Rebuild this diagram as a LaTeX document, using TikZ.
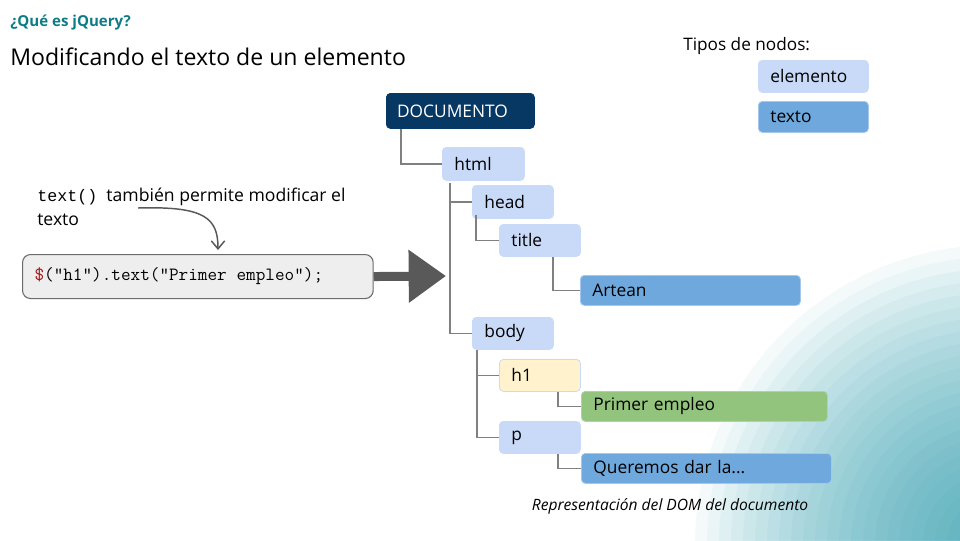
\documentclass[tikz,border=0pt]{standalone}
\usepackage{fontspec}
\setmainfont{Open Sans}
\newfontfamily\notemono{Liberation Mono}
\usetikzlibrary{arrows.meta}
\definecolor{elemc}{HTML}{C9DAF8}
\definecolor{textc}{HTML}{6FA8DC}
\definecolor{darkc}{HTML}{073763}
\definecolor{h1c}{HTML}{FFF2CC}
\definecolor{greenc}{HTML}{93C47D}
\definecolor{connc}{HTML}{808080}
\definecolor{tealc}{HTML}{0E7C86}
\definecolor{codebg}{HTML}{EEEEEE}
\definecolor{codebd}{HTML}{6B6B6B}
\definecolor{arrowc}{HTML}{595959}
\definecolor{dollarc}{HTML}{A31515}
\definecolor{glowA}{HTML}{2A9DB0}
\begin{document}
\begin{tikzpicture}[x=0.75pt, y=-0.75pt,
  box/.style={anchor=north west, rounded corners=3pt, inner xsep=9pt, inner ysep=0pt,
    align=left, font=\fontsize{13pt}{15pt}\selectfont, draw=elemc, line width=0.6pt},
  elem/.style={box, fill=elemc},
  txt/.style={box, fill=textc, draw=elemc!60!textc},
  conn/.style={draw=connc, line width=1.1pt},
  bigarrow/.style={draw=arrowc, line width=6.75pt, -{Triangle[length=28pt, width=38pt]}},
  curvy/.style={draw=arrowc, line width=1.1pt, -{Straight Barb[length=6pt, width=10pt]}},
  glow/.style={fill=glowA, fill opacity=0.05}
]
\useasboundingbox (0,0) rectangle (960,540);
\fill[white] (0,0) rectangle (960,540);
\begin{scope}
\clip (0,0) rectangle (960,540);
\foreach \r in {300,288,...,10} {\fill[glow] (995,545) circle (\r);}
\end{scope}

% titles
\node[anchor=base west, inner sep=0pt, text=tealc, font=\bfseries\fontsize{11.3pt}{13pt}\selectfont] (kicker) at (10,26) {¿Qué es jQuery?};
\node[anchor=base west, inner sep=0pt, font=\fontsize{17.3pt}{20pt}\selectfont] (title) at (10,65) {Modificando el texto de un elemento};

% legend
\node[anchor=base west, inner sep=0pt, font=\fontsize{12.9pt}{15pt}\selectfont] (legend) at (683,50) {Tipos de nodos:};
\node[elem, minimum width=82.5pt, text width=64.5pt, minimum height=24pt] (lelem) at (758,60) {elemento};
\node[txt, minimum width=82.5pt, text width=64.5pt, minimum height=23.25pt] (ltext) at (758,101) {texto};

% tree
\node[box, fill=darkc, draw=darkc, text=white, inner xsep=8pt, minimum width=111pt, text width=95pt, minimum height=26.25pt] (doc) at (386,93) {DOCUMENTO};
\node[elem, minimum width=61.5pt, text width=43.5pt, minimum height=24.75pt] (html) at (442,147) {html};
\node[elem, minimum width=60.75pt, text width=42.75pt, minimum height=24.75pt] (head) at (472,185) {head};
\node[elem, minimum width=60.75pt, text width=42.75pt, minimum height=24pt] (ttl) at (499,224) {title};
\node[txt, minimum width=165pt, text width=147pt, minimum height=22.5pt] (artean) at (580,275) {Artean};
\node[elem, minimum width=60.75pt, text width=42.75pt, minimum height=24pt] (body) at (472,317) {body};
\node[elem, fill=h1c, minimum width=60.75pt, text width=42.75pt, minimum height=24pt] (h1) at (499,359) {h1};
\node[box, fill=greenc, draw=elemc!50!greenc, minimum width=184.5pt, text width=166.5pt, minimum height=22.5pt] (primer) at (581,391) {Primer empleo};
\node[elem, minimum width=60.75pt, text width=42.75pt, minimum height=24pt] (p) at (499,421) {p};
\node[txt, minimum width=187.5pt, text width=169.5pt, minimum height=22.5pt] (quer) at (581,453) {Queremos dar la...};

\draw[conn] ([xshift=11.25pt]doc.south west) |- (html.west);
\draw[conn] ([xshift=6pt,yshift=-1.5pt]html.south west) |- (head.west);
\draw[conn] ([xshift=6pt,yshift=-1.5pt]html.south west) |- (body.west);
\draw[conn] ([xshift=3pt,yshift=3pt]head.south west) |- (ttl.west);
\draw[conn] ([xshift=40.5pt]ttl.south west) |- (artean.west);
\draw[conn] ([xshift=3.75pt]body.south west) |- (h1.west);
\draw[conn] ([xshift=3.75pt]body.south west) |- (p.west);
\draw[conn] ([xshift=44.25pt]h1.south west) |- (primer.west);
\draw[conn] ([xshift=44.25pt]p.south west) |- (quer.west);

\node[anchor=base, inner sep=0pt, font=\itshape\fontsize{11.7pt}{13pt}\selectfont] (caption) at (670,510) {Representación del DOM del documento};

% left side
\node[anchor=base west, inner sep=0pt, font=\fontsize{13.2pt}{15pt}\selectfont, align=left] (note) at (37,225)
  {{\notemono\fontsize{12.5pt}{15pt}\selectfont text()}\ \ también permite modificar el\\[3pt]texto};
\node[anchor=north west, rounded corners=6pt, fill=codebg, draw=codebd, line width=0.8pt,
  minimum width=262.5pt, minimum height=33pt, inner xsep=9pt, inner ysep=0pt,
  font=\ttfamily\fontsize{14pt}{16pt}\selectfont] (code) at (22,254)
  {\makebox[245pt][l]{\textcolor{dollarc}{\$}("h1").text("Primer\makebox[0.525em]{}empleo");}};

\coordinate (cs) at (138,208);
\coordinate (tip) at (446,276);
\draw[curvy] (cs) .. controls (205,206) and (218,218) .. ([xshift=147pt, yshift=3pt]code.north west);
\draw[bigarrow] (code.east) -- (tip);
\end{tikzpicture}
\end{document}
